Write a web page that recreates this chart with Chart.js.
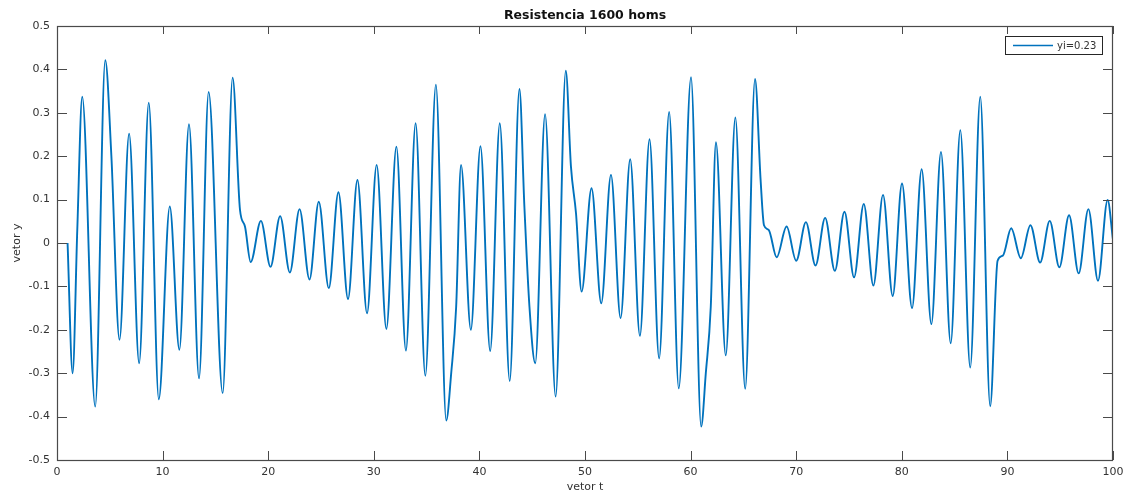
<!DOCTYPE html>
<html>
<head>
<meta charset="utf-8">
<script src="https://cdn.jsdelivr.net/npm/chart.js@4.4.1/dist/chart.umd.min.js"></script>
<style>
  html, body { margin: 0; padding: 0; background: #fff; }
  #wrap { width: 1125px; height: 494px; }
</style>
</head>
<body>
<div id="wrap"><canvas id="myChart" width="1125" height="494"></canvas></div>
<script>
// peaks, troughs and bends
const tPoints = [
    1.00, 1.48, 1.92, 2.39, 3.62, 4.57, 5.15, 5.92, 6.83, 7.78, 8.69, 9.64,
    10.68, 11.59, 12.50, 13.45, 14.36, 15.69, 16.63, 17.33, 17.80, 18.34, 19.31,
    20.22, 21.13, 22.05, 22.97, 23.91, 24.79, 25.74, 26.65, 27.56, 28.45, 29.36,
    30.27, 31.19, 32.14, 33.04, 33.96, 34.88, 35.88, 36.86, 37.33, 37.80, 38.26,
    39.19, 40.10, 41.02, 41.93, 42.87, 43.79, 44.26, 44.74, 45.29, 46.22, 47.22,
    48.18, 48.67, 49.15, 49.68, 50.62, 51.54, 52.46, 53.37, 54.28, 55.20, 56.11,
    57.02, 57.97, 58.88, 60.04, 61.00, 61.44, 61.91, 62.40, 63.33, 64.24, 65.17,
    66.10, 66.63, 66.95, 67.40, 68.15, 69.09, 70.00, 70.92, 71.83, 72.74, 73.66,
    74.57, 75.48, 76.40, 77.31, 78.22, 79.14, 80.02, 80.97, 81.88, 82.80, 83.71,
    84.63, 85.54, 86.48, 87.43, 88.37, 89.07, 89.57, 90.36, 91.27, 92.18, 93.10,
    94.01, 94.92, 95.84, 96.75, 97.67, 98.58, 99.49, 100.00
];
const yPoints = [
    0.000, -0.300, 0.030, 0.337, -0.377, 0.421, 0.200, -0.223, 0.252, -0.277, 0.323, -0.360,
    0.084, -0.246, 0.274, -0.312, 0.348, -0.346, 0.381, 0.076, 0.038, -0.044, 0.051,
    -0.055, 0.062, -0.068, 0.078, -0.084, 0.095, -0.104, 0.117, -0.129, 0.145, -0.162,
    0.180, -0.198, 0.222, -0.248, 0.276, -0.306, 0.365, -0.409, -0.300, -0.147, 0.180,
    -0.200, 0.223, -0.249, 0.276, -0.318, 0.355, 0.084, -0.147, -0.277, 0.297, -0.354,
    0.397, 0.176, 0.068, -0.112, 0.126, -0.139, 0.157, -0.173, 0.193, -0.214, 0.239,
    -0.266, 0.302, -0.335, 0.382, -0.423, -0.300, -0.147, 0.232, -0.259, 0.289, -0.336,
    0.378, 0.145, 0.041, 0.030, -0.033, 0.038, -0.041, 0.048, -0.052, 0.058, -0.064,
    0.072, -0.079, 0.090, -0.098, 0.111, -0.122, 0.137, -0.150, 0.170, -0.187, 0.210,
    -0.231, 0.260, -0.287, 0.337, -0.376, -0.041, -0.029, 0.034, -0.035, 0.041, -0.045,
    0.051, -0.056, 0.064, -0.070, 0.078, -0.087, 0.099, 0.007
];

const xTicks = [0, 10, 20, 30, 40, 50, 60, 70, 80, 90, 100];
const yTicks = [-0.5, -0.4, -0.3, -0.2, -0.1, 0, 0.1, 0.2, 0.3, 0.4, 0.5];
const seriesLabel = 'yi=0.23';
const lineColor = '#0072BD';
const axisColor = '#4a4a4a';
const textColor = '#333333';
const fontFamily = '"DejaVu Sans", sans-serif';

const points = tPoints.map((t, i) => ({ x: t, y: yPoints[i] }));

// matlab style box: frame, inward ticks on all sides, legend inside top right
const matlabBox = {
    id: 'matlabBox',
    afterDatasetsDraw(chart) {
        const ctx = chart.ctx;
        const area = chart.chartArea;
        const xs = chart.scales.x;
        const ys = chart.scales.y;
        ctx.save();
        ctx.strokeStyle = axisColor;
        ctx.lineWidth = 1;
        ctx.beginPath();
        xTicks.forEach(v => {
            const px = Math.round(xs.getPixelForValue(v)) + 0.5;
            ctx.moveTo(px, area.bottom); ctx.lineTo(px, area.bottom - 9);
            ctx.moveTo(px, area.top); ctx.lineTo(px, area.top + 8);
        });
        yTicks.forEach(v => {
            const py = Math.round(ys.getPixelForValue(v)) + 0.5;
            ctx.moveTo(area.left, py); ctx.lineTo(area.left + 10, py);
            ctx.moveTo(area.right, py); ctx.lineTo(area.right - 10, py);
        });
        ctx.stroke();
        ctx.lineWidth = 1.2;
        ctx.strokeRect(Math.round(area.left) + 0.5, Math.round(area.top) + 0.5,
            Math.round(area.right - area.left) - 1, Math.round(area.bottom - area.top));

        // legend
        const bx = area.right - 108, by = area.top + 10, bw = 97, bh = 18;
        ctx.fillStyle = '#fff';
        ctx.fillRect(bx, by, bw, bh);
        ctx.strokeStyle = '#262626';
        ctx.lineWidth = 1;
        ctx.strokeRect(bx + 0.5, by + 0.5, bw, bh);
        ctx.strokeStyle = lineColor;
        ctx.lineWidth = 1.5;
        ctx.beginPath();
        ctx.moveTo(bx + 8, by + 9.5);
        ctx.lineTo(bx + 48, by + 9.5);
        ctx.stroke();
        ctx.fillStyle = textColor;
        ctx.font = '10px ' + fontFamily;
        ctx.textBaseline = 'middle';
        ctx.textAlign = 'left';
        ctx.fillText(seriesLabel, bx + 52, by + 10);
        ctx.restore();
    }
};

const ctx = document.getElementById('myChart').getContext('2d');
new Chart(ctx, {
    type: 'line',
    data: {
        datasets: [{
            label: seriesLabel,
            data: points,
            borderColor: lineColor,
            borderWidth: 1.9,
            pointRadius: 0,
            fill: false,
            cubicInterpolationMode: 'monotone'
        }]
    },
    options: {
        responsive: false,
        animation: false,
        events: [],
        layout: { padding: { left: 0, right: 12, top: 0, bottom: 0 } },
        plugins: {
            legend: { display: false },
            tooltip: { enabled: false },
            title: {
                display: true,
                text: 'Resistencia 1600 homs',
                fullSize: false,
                color: '#111',
                font: { family: fontFamily, size: 12.5, weight: 'bold', lineHeight: 1.2 },
                padding: { top: 8, bottom: 3 }
            }
        },
        scales: {
            x: {
                type: 'linear',
                min: 0,
                max: 100,
                afterBuildTicks: s => { s.ticks = xTicks.map(v => ({ value: v })); },
                afterFit: s => { s.height = 34; s.paddingLeft = 0; s.paddingRight = 0; },
                grid: { display: false, drawTicks: false },
                border: { display: false },
                ticks: {
                    color: textColor,
                    padding: 6,
                    maxRotation: 0,
                    font: { family: fontFamily, size: 11 },
                    callback: v => String(v)
                },
                title: {
                    display: true,
                    text: 'vetor t',
                    color: textColor,
                    padding: { top: 0, bottom: 0 },
                    font: { family: fontFamily, size: 11, lineHeight: 1.2 }
                }
            },
            y: {
                min: -0.5,
                max: 0.5,
                afterBuildTicks: s => { s.ticks = yTicks.map(v => ({ value: v })); },
                afterFit: s => { s.width = 57; s.paddingTop = 0; s.paddingBottom = 0; },
                grid: { display: false, drawTicks: false },
                border: { display: false },
                ticks: {
                    color: textColor,
                    padding: 7,
                    font: { family: fontFamily, size: 11 },
                    callback: v => String(Math.round(v * 10) / 10)
                },
                title: {
                    display: true,
                    text: 'vetor y',
                    color: textColor,
                    padding: { top: 11, bottom: 0 },
                    font: { family: fontFamily, size: 11, lineHeight: 1.2 }
                }
            }
        }
    },
    plugins: [matlabBox]
});
</script>
</body>
</html>
